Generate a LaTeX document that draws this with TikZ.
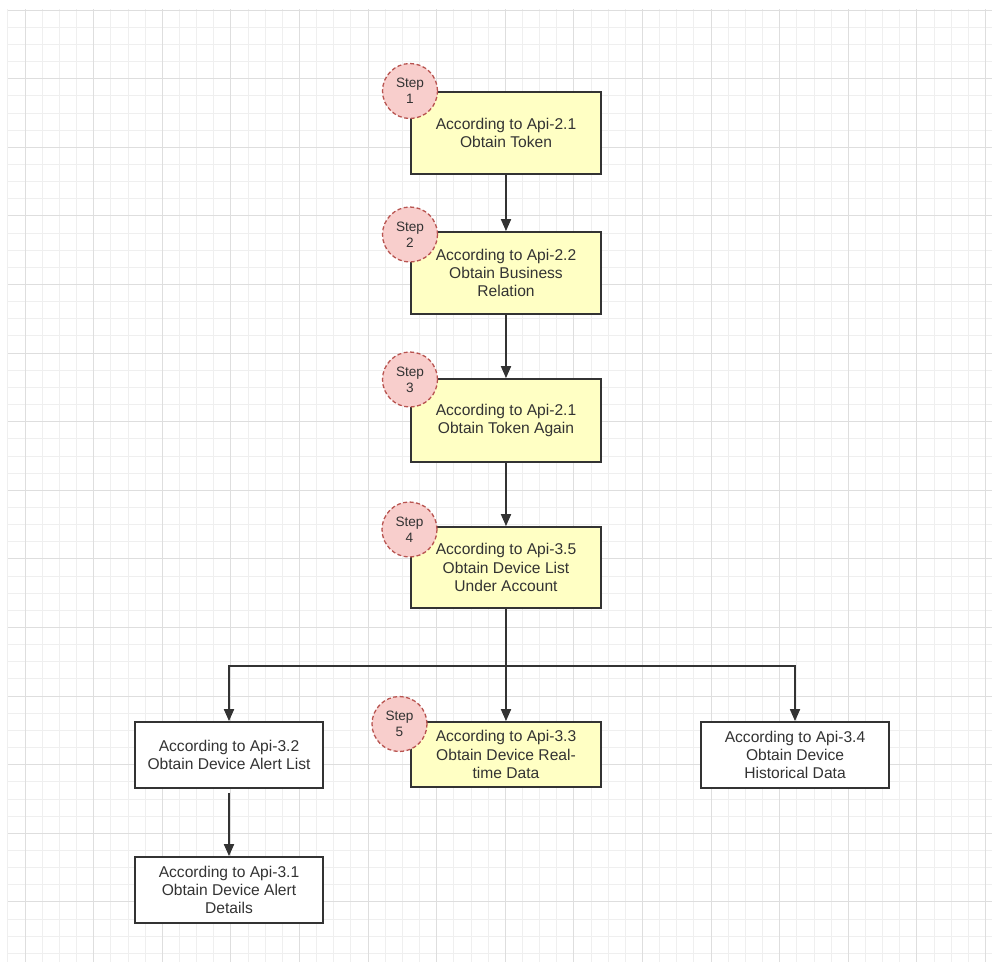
\documentclass[tikz,border=0pt]{standalone}
\usepackage{fontspec}
\setmainfont{Liberation Sans}
\usetikzlibrary{arrows.meta}
\definecolor{gridminor}{HTML}{EFEFEF}
\definecolor{gridmajor}{HTML}{DEDEDE}
\definecolor{boxfill}{HTML}{FFFFC4}
\definecolor{boxline}{HTML}{333333}
\definecolor{txt}{HTML}{333333}
\definecolor{stepfill}{HTML}{F8CECC}
\definecolor{stepline}{HTML}{B85450}
\tikzset{
  apibox/.style={draw=boxline, line width=1.8pt, rectangle, align=center, inner sep=0pt,
    text=txt, font=\fontsize{15.6}{18.3}\selectfont},
  ybox/.style={apibox, fill=boxfill, minimum width=190pt},
  wbox/.style={apibox, fill=white, minimum width=188pt, minimum height=66pt},
  stepcirc/.style={circle, draw=stepline, fill=stepfill, line width=1.3pt,
    dash pattern=on 4pt off 2.5pt, minimum size=55pt, inner sep=0pt, align=center,
    text=txt, font=\fontsize{13.6}{15.7}\selectfont},
  arr/.style={draw=boxline, line width=1.8pt, -{Triangle[length=12pt,width=10pt]}}
}
\begin{document}
\begin{tikzpicture}[x=1pt,y=-1pt]
\useasboundingbox (0,0) rectangle (992,962);
\fill[white] (0,0) rectangle (992,962);
% grid
\foreach \i in {0,...,57} {
  \pgfmathsetmacro{\xx}{7.85+17.15*\i}
  \draw[gridminor, line width=0.8pt] (\xx,9) -- (\xx,962);
}
\foreach \j in {0,...,55} {
  \pgfmathsetmacro{\yy}{10+17.15*\j}
  \draw[gridminor, line width=0.8pt] (8,\yy) -- (992,\yy);
}
\foreach \i in {0,...,14} {
  \pgfmathsetmacro{\xx}{25+68.6*\i}
  \draw[gridmajor, line width=1pt] (\xx,9) -- (\xx,962);
}
\foreach \j in {0,...,13} {
  \pgfmathsetmacro{\yy}{10+68.6*\j}
  \draw[gridmajor, line width=1pt] (8,\yy) -- (992,\yy);
}
% boxes
\node[ybox, minimum height=82pt] (B1) at (506,133) {According to Api-2.1\\Obtain Token};
\node[ybox, minimum height=82pt] (B2) at (506,273) {According to Api-2.2\\Obtain Business\\Relation};
\node[ybox, minimum height=83pt] (B3) at (506,420.5) {According to Api-2.1\\Obtain Token Again};
\node[ybox, minimum height=81pt] (B4) at (506,567.5) {According to Api-3.5\\Obtain Device List\\Under Account};
\node[ybox, minimum height=65pt] (B5) at (506,754.5) {According to Api-3.3\\Obtain Device Real-\\time Data};
\node[wbox] (L) at (229,755) {According to Api-3.2\\Obtain Device Alert List};
\node[wbox] (R) at (795,755) {According to Api-3.4\\Obtain Device\\Historical Data};
\node[wbox] (D) at (229,890) {According to Api-3.1\\Obtain Device Alert\\Details};
\coordinate (J) at (506,666);
% connectors
\draw[arr] (B1) -- (B2);
\draw[arr] (B2) -- (B3);
\draw[arr] (B3) -- (B4);
\draw[arr] (B4) -- (B5);
\draw[arr] (J) -| (L.north);
\draw[arr] (J) -| (R.north);
\draw[arr, shorten <=4pt] (L) -- (D);
% step circles
\node[stepcirc] (S1) at (410,91) {Step\\1};
\node[stepcirc] (S2) at (410,234.5) {Step\\2};
\node[stepcirc] (S3) at (410,379.5) {Step\\3};
\node[stepcirc] (S4) at (409.5,529.5) {Step\\4};
\node[stepcirc] (S5) at (399.5,724) {Step\\5};
\end{tikzpicture}
\end{document}
